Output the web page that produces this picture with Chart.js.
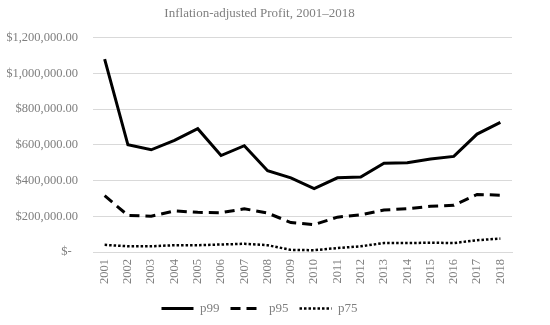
<!DOCTYPE html>
<html>
<head>
<meta charset="utf-8">
<script src="https://cdn.jsdelivr.net/npm/chart.js@4"></script>
<style>
  html, body { margin: 0; padding: 0; background: #fff; }
  #wrap { width: 550px; height: 325px; }
</style>
</head>
<body>
<div id="wrap"><canvas id="chart" width="550" height="325"></canvas></div>
<script>
// data
const years = ['2001', '2002', '2003', '2004', '2005', '2006', '2007', '2008', '2009',
  '2010', '2011', '2012', '2013', '2014', '2015', '2016', '2017', '2018'];
const p99 = [1080000, 600000, 572000, 625000, 690000, 540000, 595000, 455000, 415000,
  355000, 415000, 420000, 497000, 500000, 520000, 535000, 660000, 725000];
const p95 = [315000, 205000, 200000, 230000, 222000, 220000, 242000, 218000, 165000,
  153000, 195000, 208000, 235000, 242000, 256000, 262000, 322000, 318000];
const p75 = [40000, 32000, 32000, 38000, 38000, 42000, 46000, 38000, 12000,
  10000, 22000, 32000, 50000, 50000, 52000, 50000, 66000, 75000];
const yTicks = [0, 200000, 400000, 600000, 800000, 1000000, 1200000];

const grey = '#7f7f7f';
const font = 'Liberation Serif, "Times New Roman", serif';

function money(v) {
  if (v === 0) return '$-  ';
  return '$' + v.toLocaleString('en-US', { minimumFractionDigits: 2, maximumFractionDigits: 2 });
}

const ctx = document.getElementById('chart').getContext('2d');
new Chart(ctx, {
  type: 'line',
  data: {
    labels: years,
    datasets: [
      { label: 'p99', data: p99, borderColor: '#000', borderWidth: 3, borderDash: [] },
      { label: 'p95', data: p95, borderColor: '#000', borderWidth: 3, borderDash: [10, 6] },
      { label: 'p75', data: p75, borderColor: '#000', borderWidth: 2.5, borderDash: [2.5, 2] }
    ]
  },
  options: {
    responsive: false,
    animation: false,
    layout: { padding: { left: 7, right: 38, top: 3, bottom: 0 } },
    elements: {
      point: { radius: 0, hoverRadius: 0 },
      line: { tension: 0, fill: false, borderCapStyle: 'butt', borderJoinStyle: 'miter' }
    },
    scales: {
      x: {
        offset: true,
        grid: { display: false, drawTicks: false },
        border: { display: true, color: '#d9d9d9' },
        ticks: {
          color: grey, font: { family: font, size: 12.5 },
          maxRotation: 90, minRotation: 90, padding: 7, autoSkip: false
        }
      },
      y: {
        min: 0, max: 1200000,
        afterBuildTicks: axis => { axis.ticks = yTicks.map(v => ({ value: v })); },
        afterFit: axis => { axis.width = 86; },
        grid: { color: '#d9d9d9', drawTicks: false },
        border: { display: false },
        ticks: {
          color: grey, font: { family: font, size: 12.5 }, padding: 15,
          callback: v => money(v)
        }
      }
    },
    plugins: {
      title: {
        display: true,
        text: 'Inflation-adjusted Profit, 2001–2018',
        color: grey,
        font: { family: font, size: 13, weight: 'normal' },
        padding: { top: 3, bottom: 16 }
      },
      legend: {
        position: 'bottom',
        labels: {
          color: grey, font: { family: font, size: 13 },
          usePointStyle: true, pointStyle: 'line', pointStyleWidth: 32, boxHeight: 10,
          padding: 11,
          generateLabels: chart => {
            const items = Chart.defaults.plugins.legend.labels.generateLabels(chart);
            items.forEach(it => {
              const ds = chart.data.datasets[it.datasetIndex];
              it.lineDash = ds.borderDash;
              it.lineWidth = ds.borderWidth;
              it.strokeStyle = '#000';
              it.pointStyle = 'line';
            });
            return items;
          }
        }
      },
      tooltip: { enabled: false }
    }
  }
});
</script>
</body>
</html>
